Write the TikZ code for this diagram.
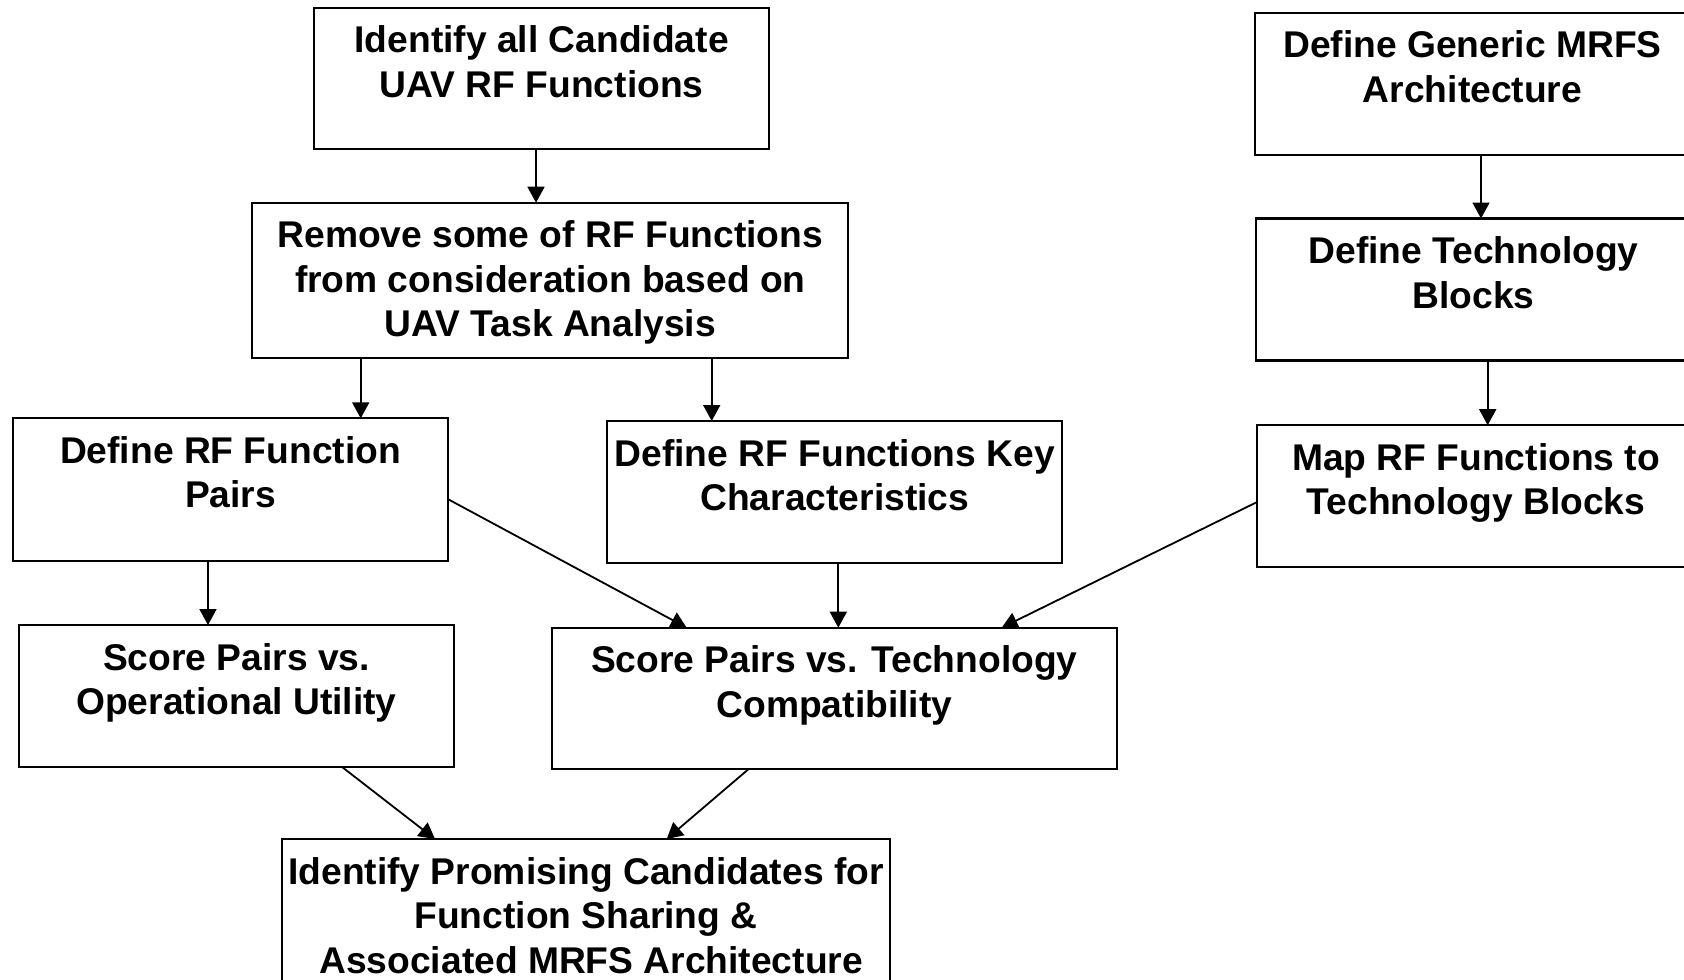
\documentclass[tikz,border=0pt]{standalone}
\usepackage{fontspec}
\setmainfont{Liberation Sans}
\usetikzlibrary{arrows.meta,calc}
\newcommand{\Ln}[1]{\makebox[\linewidth]{#1}}
\newcommand{\bx}[3]{\parbox[t][#2][t]{#1}{\fontsize{18.6pt}{22.25pt}\selectfont\bfseries #3}}
\newcommand{\fs}{\rule{0pt}{22.5pt}}
\tikzset{
  box/.style={draw, line width=1.1pt, inner sep=0pt, outer sep=0pt, anchor=north west},
  arr/.style={line width=0.9pt, -{Triangle[width=8.5pt,length=8pt]}}
}
\begin{document}
\begin{tikzpicture}[x=0.5pt,y=-0.5pt]
\useasboundingbox (0,0) rectangle (1684,979);
\fill[white] (0,0) rectangle (1684,979);
\clip (0,0) rectangle (1684,979);
\node[box] (b1) at (314,8) {\bx{227.65pt}{70.65pt}{\Ln{\fs Identify all Candidate}\\\Ln{UAV RF Functions}}};
\node[box] (b2) at (252.3,202.7) {\bx{298pt}{77.5pt}{\Ln{\fs Remove some of RF Functions}\\\Ln{from consideration based on}\\\Ln{UAV Task Analysis}}};
\node[box] (b3) at (12.7,418.3) {\bx{217.8pt}{71.2pt}{\Ln{\fs Define RF Function}\\\Ln{Pairs}}};
\node[box] (b4) at (607.3,421) {\bx{227.5pt}{70.85pt}{\Ln{\fs Define RF Functions Key}\\\Ln{Characteristics}}};
\node[box] (b5) at (19,625) {\bx{217.5pt}{70.85pt}{\Ln{\fs Score Pairs vs.}\\\Ln{Operational Utility}}};
\node[box] (b6) at (551.7,627.7) {\bx{282.65pt}{70.8pt}{\Ln{\fs Score Pairs vs. Technology}\\\Ln{Compatibility}}};
\node[box] (b7) at (282,839) {\bx{304pt}{75pt}{\Ln{\fs Identify Promising Candidates for}\\\Ln{Function Sharing \&}\\\Ln{\hspace*{0.278em}Associated MRFS Architecture}}};
\node[box] (b8) at (1255,13) {\bx{217.5pt}{70.9pt}{\Ln{\fs Define Generic MRFS}\\\Ln{Architecture}}};
\node[box] (b9) at (1256,218.5) {\bx{217.5pt}{71pt}{\Ln{\fs Define Technology}\\\Ln{Blocks}}};
\node[box] (b10) at (1257.3,425.2) {\bx{218.7pt}{70.75pt}{\Ln{\fs Map RF Functions to}\\\Ln{Technology Blocks}}};
% connectors
\draw[arr] ($(b1.south west)!0.4876!(b1.south east)$) coordinate (p1) -- (p1 |- b2.north);
\draw[arr] ($(b2.south west)!0.1819!(b2.south east)$) coordinate (p2) -- (p2 |- b3.north);
\draw[arr] ($(b2.south west)!0.7708!(b2.south east)$) coordinate (p3) -- (p3 |- b4.north);
\draw[arr] ($(b3.south west)!0.4483!(b3.south east)$) coordinate (p4) -- (p4 |- b5.north);
\draw[arr] ($(b3.north east)!0.569!(b3.south east)$) -- ($(b6.north west)!0.2388!(b6.north east)$);
\draw[arr] ($(b4.south west)!0.5077!(b4.south east)$) coordinate (p6) -- (p6 |- b6.north);
\draw[arr] ($(b10.north west)!0.542!(b10.south west)$) -- ($(b6.north west)!0.796!(b6.north east)$);
\draw[arr] ($(b8.south west)!0.5195!(b8.south east)$) coordinate (p8) -- (p8 |- b9.north);
\draw[arr] ($(b9.south west)!0.5326!(b9.south east)$) coordinate (p9) -- (p9 |- b10.north);
\draw[arr] ($(b5.south west)!0.7418!(b5.south east)$) -- ($(b7.north west)!0.2516!(b7.north east)$);
\draw[arr] ($(b6.south west)!0.3478!(b6.south east)$) -- ($(b7.north west)!0.6327!(b7.north east)$);
\end{tikzpicture}
\end{document}
